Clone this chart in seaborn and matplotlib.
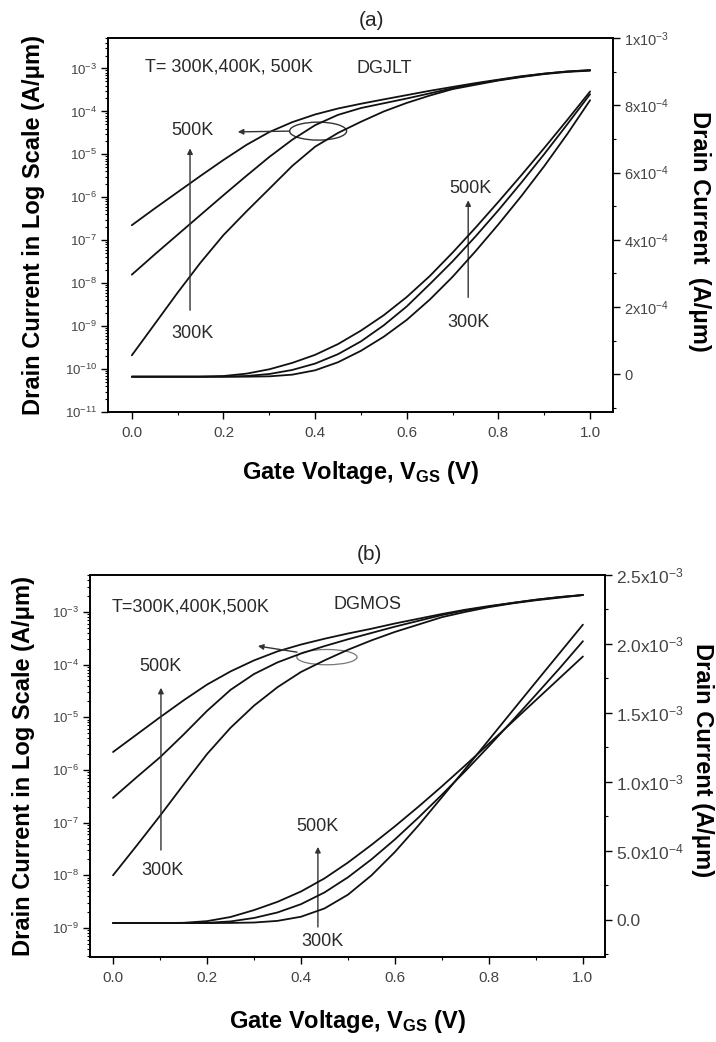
import numpy as np
import pandas as pd
import matplotlib
matplotlib.use("Agg")
import matplotlib.pyplot as plt
import seaborn as sns
from matplotlib.patches import Ellipse
from matplotlib.ticker import FixedLocator, FixedFormatter, LogLocator, MultipleLocator, NullFormatter

# gate voltage samples (V)
vgs = [0.00, 0.05, 0.10, 0.15, 0.20, 0.25, 0.30, 0.35, 0.40, 0.45, 0.50,
       0.55, 0.60, 0.65, 0.70, 0.75, 0.80, 0.85, 0.90, 0.95, 1.00]
temps = ["300K", "400K", "500K"]

# (a) DGJLT, log-scale drain current (A/um)
jlt_log_300 = [2.09e-10, 1.12e-9, 6.03e-9, 3.02e-8, 1.32e-7, 4.68e-7, 1.58e-6, 5.37e-6, 1.51e-5, 3.16e-5, 5.75e-5,
               1.0e-4, 1.58e-4, 2.34e-4, 3.31e-4, 4.17e-4, 5.25e-4, 6.31e-4, 7.41e-4, 8.32e-4, 8.91e-4]
jlt_log_400 = [1.58e-8, 4.68e-8, 1.35e-7, 3.89e-7, 1.12e-6, 3.16e-6, 8.71e-6, 2.19e-5, 4.79e-5, 8.32e-5, 1.20e-4,
               1.55e-4, 2.0e-4, 2.63e-4, 3.47e-4, 4.37e-4, 5.37e-4, 6.46e-4, 7.59e-4, 8.51e-4, 9.05e-4]
jlt_log_500 = [2.24e-7, 5.50e-7, 1.32e-6, 3.16e-6, 7.41e-6, 1.66e-5, 3.31e-5, 5.62e-5, 8.51e-5, 1.17e-4, 1.51e-4,
               1.91e-4, 2.40e-4, 3.02e-4, 3.72e-4, 4.57e-4, 5.50e-4, 6.61e-4, 7.59e-4, 8.51e-4, 9.2e-4]
# (a) DGJLT, linear drain current (A/um)
jlt_lin_300 = [-7e-6, -7e-6, -7e-6, -7e-6, -7e-6, -7e-6, -6e-6, -1e-6, 1.2e-5, 3.6e-5, 7.0e-5,
               1.12e-4, 1.62e-4, 2.22e-4, 2.90e-4, 3.66e-4, 4.46e-4, 5.30e-4, 6.19e-4, 7.14e-4, 8.15e-4]
jlt_lin_400 = [-7e-6, -7e-6, -7e-6, -7e-6, -7e-6, -5e-6, 1e-6, 1.3e-5, 3.2e-5, 6.0e-5, 9.8e-5,
               1.46e-4, 2.02e-4, 2.68e-4, 3.36e-4, 4.10e-4, 4.88e-4, 5.70e-4, 6.55e-4, 7.43e-4, 8.33e-4]
jlt_lin_500 = [-7e-6, -7e-6, -7e-6, -7e-6, -5e-6, 2e-6, 1.5e-5, 3.4e-5, 5.8e-5, 9.0e-5, 1.30e-4,
               1.76e-4, 2.30e-4, 2.92e-4, 3.62e-4, 4.36e-4, 5.13e-4, 5.92e-4, 6.73e-4, 7.56e-4, 8.41e-4]

# (b) DGMOS, log-scale drain current (A/um)
mos_log_300 = [1.0e-8, 3.63e-8, 1.35e-7, 5.25e-7, 2.0e-6, 6.31e-6, 1.66e-5, 3.72e-5, 7.24e-5, 1.20e-4, 1.91e-4,
               2.88e-4, 4.17e-4, 5.75e-4, 7.94e-4, 1.0e-3, 1.23e-3, 1.45e-3, 1.66e-3, 1.86e-3, 2.09e-3]
mos_log_400 = [2.95e-7, 7.24e-7, 1.74e-6, 4.68e-6, 1.32e-5, 3.31e-5, 6.61e-5, 1.10e-4, 1.62e-4, 2.24e-4, 3.02e-4,
               3.98e-4, 5.25e-4, 6.76e-4, 8.71e-4, 1.07e-3, 1.26e-3, 1.48e-3, 1.70e-3, 1.91e-3, 2.09e-3]
mos_log_500 = [2.19e-6, 4.68e-6, 1.0e-5, 2.09e-5, 4.17e-5, 7.41e-5, 1.20e-4, 1.78e-4, 2.40e-4, 3.09e-4, 3.89e-4,
               4.79e-4, 6.03e-4, 7.41e-4, 9.12e-4, 1.10e-3, 1.29e-3, 1.48e-3, 1.70e-3, 1.91e-3, 2.09e-3]
# (b) DGMOS, linear drain current (A/um)
mos_lin_300 = [-2.4e-5, -2.4e-5, -2.4e-5, -2.4e-5, -2.4e-5, -2.3e-5, -2.0e-5, -8e-6, 2.2e-5, 8.2e-5, 1.82e-4,
               3.22e-4, 4.92e-4, 6.84e-4, 8.89e-4, 1.095e-3, 1.305e-3, 1.515e-3, 1.724e-3, 1.932e-3, 2.14e-3]
mos_lin_400 = [-2.4e-5, -2.4e-5, -2.4e-5, -2.4e-5, -2.2e-5, -1.2e-5, 1.3e-5, 5.3e-5, 1.13e-4, 1.98e-4, 3.08e-4,
               4.38e-4, 5.83e-4, 7.41e-4, 9.07e-4, 1.079e-3, 1.259e-3, 1.444e-3, 1.632e-3, 1.822e-3, 2.02e-3]
mos_lin_500 = [-2.4e-5, -2.4e-5, -2.4e-5, -2.2e-5, -1.0e-5, 2.0e-5, 7.0e-5, 1.30e-4, 2.05e-4, 3.0e-4, 4.15e-4,
               5.43e-4, 6.78e-4, 8.20e-4, 9.68e-4, 1.121e-3, 1.277e-3, 1.435e-3, 1.593e-3, 1.751e-3, 1.909e-3]

x_ticks = [0.0, 0.2, 0.4, 0.6, 0.8, 1.0]
x_labels = ["0.0", "0.2", "0.4", "0.6", "0.8", "1.0"]
right_ticks_a = [0.0, 2e-4, 4e-4, 6e-4, 8e-4, 1e-3]
right_labels_a = ["0", r"2x10$^{-4}$", r"4x10$^{-4}$", r"6x10$^{-4}$", r"8x10$^{-4}$", r"1x10$^{-3}$"]
right_ticks_b = [0.0, 5e-4, 1e-3, 1.5e-3, 2e-3, 2.5e-3]
right_labels_b = ["0.0", r"5.0x10$^{-4}$", r"1.0x10$^{-3}$", r"1.5x10$^{-3}$", r"2.0x10$^{-3}$", r"2.5x10$^{-3}$"]


def long_df(series):
    rows = []
    for t, vals in zip(temps, series):
        for v, i in zip(vgs, vals):
            rows.append({"V": v, "I": i, "T": t})
    return pd.DataFrame(rows)


sns.set_theme(style="ticks")
plt.rcParams["font.family"] = ["Liberation Sans", "DejaVu Sans"]
plt.rcParams["mathtext.default"] = "regular"

W, H = 716, 1042
fig = plt.figure(figsize=(W / 100, H / 100), dpi=100)

tick_col = "#444444"
txt_col = "#2a2a2a"


def px_axes(l, t, r, b):
    return fig.add_axes([l / W, 1 - b / H, (r - l) / W, (b - t) / H])


def style_axes(ax, ax2, xlim, ylim_log, ylim_lin, rticks, rlabels, rminor, rsize):
    ax.set_yscale("log")
    ax.set_xlim(*xlim)
    ax.set_ylim(*ylim_log)
    ax2.set_ylim(*ylim_lin)
    ax.xaxis.set_major_locator(FixedLocator(x_ticks))
    ax.xaxis.set_major_formatter(FixedFormatter(x_labels))
    ax.xaxis.set_minor_locator(MultipleLocator(0.1))
    ax.yaxis.set_major_locator(LogLocator(base=10, numticks=20))
    ax.yaxis.set_minor_locator(LogLocator(base=10, subs=np.arange(2, 10), numticks=20))
    ax.yaxis.set_minor_formatter(NullFormatter())
    ax2.yaxis.set_major_locator(FixedLocator(rticks))
    ax2.yaxis.set_major_formatter(FixedFormatter(rlabels))
    ax2.yaxis.set_minor_locator(MultipleLocator(rminor))
    for a in (ax, ax2):
        a.tick_params(which="major", direction="out", length=5, width=1, colors="black",
                      labelcolor=tick_col)
        a.tick_params(which="minor", direction="out", length=2.5, width=0.8, colors="black")
        for s in a.spines.values():
            s.set_visible(True)
            s.set_linewidth(1.2)
            s.set_color("black")
    ax.tick_params(axis="x", labelsize=11, pad=5)
    ax.tick_params(axis="y", labelsize=9.5, pad=3)
    ax2.tick_params(axis="y", labelsize=rsize, pad=3)
    ax.tick_params(top=False, right=False, which="both")
    ax2.tick_params(left=False, top=False, right=True, which="both")


def draw_panel(ax, ax2, logs, lins):
    sns.lineplot(data=long_df(logs), x="V", y="I", hue="T", palette=["#111111"] * 3,
                 estimator=None, sort=False, legend=False, lw=1.3, ax=ax)
    sns.lineplot(data=long_df(lins), x="V", y="I", hue="T", palette=["#111111"] * 3,
                 estimator=None, sort=False, legend=False, lw=1.3, ax=ax2)


def labels(ax, ax2, right_text, lx, rx, ry, xy):
    lab = dict(fontsize=17, fontweight="bold", color="black")
    ax.set_xlabel(r"Gate Voltage, V$_{GS}$ (V)", **lab)
    ax.set_ylabel("Drain Current in Log Scale (A/\u03bcm)", **lab)
    ax2.set_ylabel(right_text, rotation=270, **lab)
    ax.xaxis.set_label_coords(0.5, xy)
    ax.yaxis.set_label_coords(lx, 0.5)
    ax2.yaxis.set_label_coords(rx, ry)
    for lbl in (ax.xaxis.label, ax.yaxis.label, ax2.yaxis.label):
        lbl.set_va("center")
        lbl.set_ha("center")


arrow = dict(arrowstyle="-|>", color="#333333", lw=1.0, mutation_scale=8, shrinkA=0, shrinkB=0)
note = dict(fontsize=13, color=txt_col)

# ---- panel (a) DGJLT
ax_a = px_axes(108, 38, 613, 412)
ax_a2 = ax_a.twinx()
draw_panel(ax_a, ax_a2, [jlt_log_300, jlt_log_400, jlt_log_500], [jlt_lin_300, jlt_lin_400, jlt_lin_500])
style_axes(ax_a, ax_a2, (-0.052, 1.05), (1e-11, 10 ** -2.29), (-1.12e-4, 1e-3),
           right_ticks_a, right_labels_a, 1e-4, 10.5)
labels(ax_a, ax_a2, "Drain Current  (A/\u03bcm)", -0.147, 1.172, 0.484, -0.163)
fig.text(372 / W, 1 - 20 / H, "(a)", ha="center", va="center", fontsize=15)

ax_a.text(0.028, 10 ** -2.97, "T= 300K,400K, 500K", ha="left", va="center", **note)
ax_a.text(0.49, 10 ** -2.99, "DGJLT", ha="left", va="center", **note)
ax_a.text(0.133, 10 ** -4.44, "500K", ha="center", va="center", **note)
ax_a.text(0.133, 10 ** -9.17, "300K", ha="center", va="center", **note)
ax_a.annotate("", xy=(0.127, 10 ** -4.86), xytext=(0.127, 10 ** -8.63), arrowprops=arrow)
ax_a.text(0.738, 10 ** -5.79, "500K", ha="center", va="center", **note)
ax_a.text(0.734, 10 ** -8.91, "300K", ha="center", va="center", **note)
ax_a.annotate("", xy=(0.734, 10 ** -6.07), xytext=(0.734, 10 ** -8.33), arrowprops=arrow)
ax_a.add_patch(Ellipse((0.416, 0.751), 0.113, 0.048, transform=ax_a.transAxes,
                       fill=False, ec="#333333", lw=1.0))
ax_a.annotate("", xy=(0.257, 0.749), xytext=(0.36, 0.751), xycoords="axes fraction",
              textcoords="axes fraction", arrowprops=arrow)

# ---- panel (b) DGMOS
ax_b = px_axes(90, 575, 605, 957)
ax_b2 = ax_b.twinx()
draw_panel(ax_b, ax_b2, [mos_log_300, mos_log_400, mos_log_500], [mos_lin_300, mos_lin_400, mos_lin_500])
style_axes(ax_b, ax_b2, (-0.049, 1.047), (10 ** -9.55, 10 ** -2.3), (-2.7e-4, 2.5e-3),
           right_ticks_b, right_labels_b, 2.5e-4, 12.5)
labels(ax_b, ax_b2, "Drain Current (A/\u03bcm)", -0.13, 1.19, 0.516, -0.17)
fig.text(369 / W, 1 - 555 / H, "(b)", ha="center", va="center", fontsize=15)

ax_b.text(-0.002, 10 ** -2.9, "T=300K,400K,500K", ha="left", va="center", **note)
ax_b.text(0.47, 10 ** -2.86, "DGMOS", ha="left", va="center", **note)
ax_b.text(0.1, 10 ** -4.04, "500K", ha="center", va="center", **note)
ax_b.text(0.105, 10 ** -7.9, "300K", ha="center", va="center", **note)
ax_b.annotate("", xy=(0.102, 10 ** -4.44), xytext=(0.102, 10 ** -7.52), arrowprops=arrow)
ax_b.text(0.436, 10 ** -7.08, "500K", ha="center", va="center", **note)
ax_b.text(0.445, 10 ** -9.26, "300K", ha="center", va="center", **note)
ax_b.annotate("", xy=(0.436, 10 ** -7.46), xytext=(0.436, 10 ** -8.98), arrowprops=arrow)
ax_b.add_patch(Ellipse((0.46, 0.785), 0.117, 0.04, transform=ax_b.transAxes,
                       fill=False, ec="#777777", lw=0.9))
ax_b.annotate("", xy=(0.326, 0.814), xytext=(0.402, 0.798), xycoords="axes fraction",
              textcoords="axes fraction", arrowprops=arrow)

fig.savefig("out.png", dpi=100)
